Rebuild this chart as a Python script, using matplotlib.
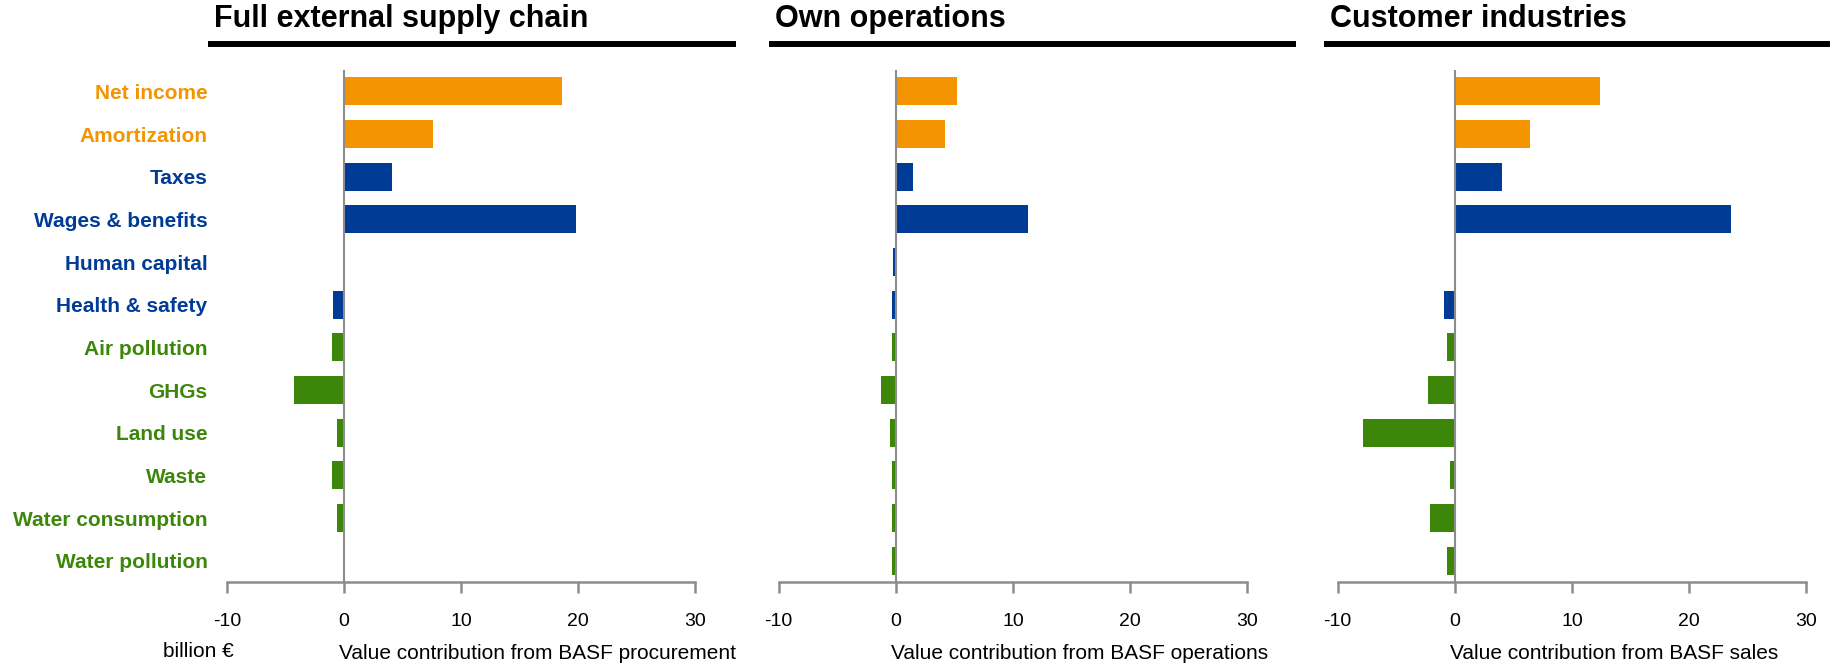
# BASF value contribution chart - three panels of horizontal bars

import matplotlib.pyplot as plt

# DATA

categorias = ["Net income", "Amortization", "Taxes", "Wages & benefits",
              "Human capital", "Health & safety", "Air pollution", "GHGs",
              "Land use", "Waste", "Water consumption", "Water pollution"]

grupos = ["fin", "fin", "soc", "soc", "soc", "soc",
          "env", "env", "env", "env", "env", "env"]

supply_chain = [18.6, 7.6, 4.1, 19.8, 0.0, -0.9, -1.0, -4.3, -0.6, -1.0, -0.6, -0.05]
own_ops = [5.2, 4.2, 1.5, 11.3, -0.25, -0.35, -0.35, -1.3, -0.5, -0.35, -0.35, -0.35]
customers = [12.4, 6.4, 4.0, 23.6, 0.0, -0.9, -0.7, -2.3, -7.8, -0.4, -2.1, -0.7]

titulos = ["Full external supply chain", "Own operations", "Customer industries"]
etiquetas_x = ["Value contribution from BASF procurement",
               "Value contribution from BASF operations",
               "Value contribution from BASF sales"]
ticks_x = [-10, 0, 10, 20, 30]

# ESTILO

colores = {"fin": "#F39400", "soc": "#003C96", "env": "#3C870A"}
gris = "#8C8C8C"

plt.rcParams["font.family"] = ["Liberation Sans", "DejaVu Sans"]

fig = plt.figure(figsize=(18.3, 6.68), dpi=100)

lefts = [0.124, 0.4255, 0.731]
series = [supply_chain, own_ops, customers]
# title rule extents in figure fraction (start, end)
reglas = [(0.1153, 0.4005), (0.4219, 0.7066), (0.7251, 1.0)]

posiciones = list(range(len(categorias)))
bar_colors = [colores[g] for g in grupos]

for i in range(3):
    ax = fig.add_axes([lefts[i], 0.1287, 0.256, 0.7665])

    ax.barh(posiciones, series[i], height=0.66, color=bar_colors, zorder=2)
    ax.axvline(0, color=gris, linewidth=1.5, zorder=3)

    ax.set_xlim(-10, 30)
    ax.set_ylim(len(categorias) - 0.5, -0.5)
    ax.set_xticks(ticks_x)
    ax.set_xticklabels([str(t) for t in ticks_x], fontsize=14)

    for lado in ["top", "right", "left"]:
        ax.spines[lado].set_visible(False)
    ax.spines["bottom"].set_color(gris)
    ax.spines["bottom"].set_linewidth(1.8)
    ax.tick_params(axis="x", direction="out", length=8, width=1.8,
                   color=gris, pad=14)

    if i == 0:
        ax.set_yticks(posiciones)
        ax.set_yticklabels(categorias, fontsize=15, fontweight="bold")
        for lbl, c in zip(ax.get_yticklabels(), bar_colors):
            lbl.set_color(c)
        ax.tick_params(axis="y", length=0, pad=14)
    else:
        ax.set_yticks([])

    # x label starting right at the zero line
    ax.text(-0.4, -0.14, etiquetas_x[i], transform=ax.get_xaxis_transform(),
            fontsize=15, ha="left", va="center")

    # title and thick rule
    x0, x1 = reglas[i]
    fig.text(x0 + 0.0015, 0.9596, titulos[i], fontsize=22, fontweight="bold",
             ha="left", va="baseline")
    fig.add_artist(plt.Line2D([x0, x1], [0.934, 0.934], color="black",
                              linewidth=4.3, transform=fig.transFigure))

fig.text(0.128, 0.024, "billion €", fontsize=15, ha="right", va="center")

fig.savefig("out.png", dpi=100)
